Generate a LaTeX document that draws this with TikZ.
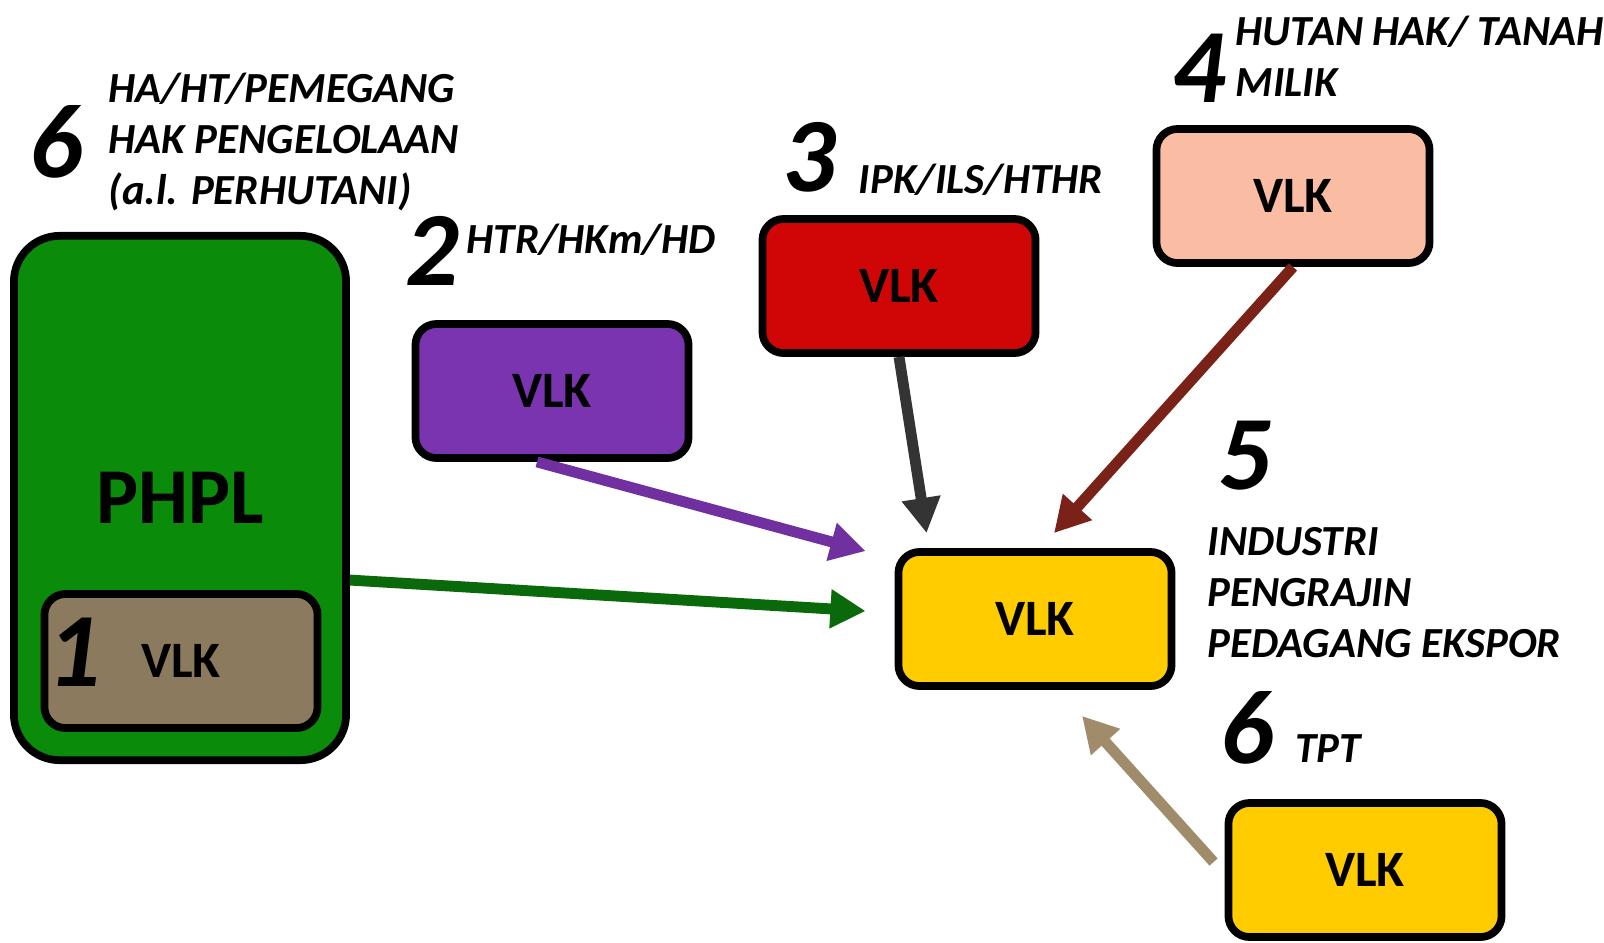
\documentclass[tikz,border=0pt]{standalone}
\usepackage{fontspec}
\setmainfont{Carlito}
\usetikzlibrary{arrows.meta, positioning}

\definecolor{phplgreen}{RGB}{10,140,10}
\definecolor{vlktan}{RGB}{140,122,94}
\definecolor{vlkpurple}{RGB}{122,52,176}
\definecolor{vlkred}{RGB}{208,6,6}
\definecolor{vlkpeach}{RGB}{250,188,162}
\definecolor{vlkyellow}{RGB}{255,204,0}
\definecolor{arrgreen}{RGB}{10,105,10}
\definecolor{arrpurple}{RGB}{112,48,160}
\definecolor{arrgray}{RGB}{52,52,52}
\definecolor{arrmaroon}{RGB}{122,34,24}
\definecolor{arrtan}{RGB}{160,140,106}

\tikzset{
  vlkbox/.style={draw=black, line width=2.2pt, rounded corners=6pt, minimum width=2.73cm, minimum height=1.34cm, font=\bfseries\fontsize{14.5}{16}\selectfont},
  bignum/.style={font=\bfseries\itshape\fontsize{30}{30}\selectfont, inner sep=0pt},
  lbl/.style={anchor=west, align=left, font=\bfseries\itshape\fontsize{12.2}{14.5}\selectfont, inner sep=0pt},
  arr/.style={line width=3.1pt, -{Triangle[length=10pt, width=10.5pt]}},
}

\begin{document}
\begin{tikzpicture}[x=0.01cm, y=-0.01cm]
    \useasboundingbox (0,0) rectangle (1604,942);
    % PHPL block
    \node[vlkbox, fill=phplgreen, rounded corners=13pt, minimum width=3.32cm, minimum height=5.24cm, font=\bfseries\fontsize{22.5}{24}\selectfont] (phpl) at (180,498) {PHPL};
    \node[vlkbox, fill=vlktan] (vlk1) at (181,661) {VLK};
    \node[bignum] (num1) at (74,652) {1};
    % 6 HA/HT
    \node[bignum] (num6a) at (56,142) {6};
    \node[lbl] (lab6a) at (108,142) {HA/HT/PEMEGANG\\HAK PENGELOLAAN\\(a.l. PERHUTANI)};
    % 2 HTR
    \node[bignum] (num2) at (432,251) {2};
    \node[lbl] (lab2) at (466,240) {HTR/HKm/HD};
    \node[vlkbox, fill=vlkpurple] (vlk2) at (552,391) {VLK};
    % 3 IPK
    \node[bignum] (num3) at (809,157) {3};
    \node[lbl] (lab3) at (858,180) {IPK/ILS/HTHR};
    \node[vlkbox, fill=vlkred] (vlk3) at (899,286) {VLK};
    % 4 hutan hak
    \node[bignum] (num4) at (1199,68) {4};
    \node[lbl] (lab4) at (1235,56) {HUTAN HAK/ TANAH\\MILIK};
    \node[vlkbox, fill=vlkpeach] (vlk4) at (1293,196) {VLK};
    % 5 industri
    \node[bignum] (num5) at (1245,456) {5};
    \node[lbl] (lab5) at (1207,593) {INDUSTRI\\PENGRAJIN\\PEDAGANG EKSPOR};
    \node[vlkbox, fill=vlkyellow] (vlk5) at (1035,619) {VLK};
    % 6 TPT
    \node[bignum] (num6b) at (1247,728) {6};
    \node[lbl] (lab6b) at (1295,749) {TPT};
    \node[vlkbox, fill=vlkyellow] (vlk6) at (1365,870) {VLK};
    % panah ke industri
    \draw[arr, arrgreen] ([yshift=-0.82cm]phpl.east) -- ([xshift=-0.29cm, yshift=0.08cm]vlk5.west);
    \draw[arr, arrpurple] ([xshift=-0.15cm]vlk2.south) -- ([xshift=-0.29cm, yshift=-0.03cm]vlk5.north west);
    \draw[arr, arrgray] (vlk3.south) -- ([xshift=0.32cm, yshift=0.15cm]vlk5.north west);
    \draw[arr, arrmaroon] (vlk4.south) -- ([xshift=0.19cm, yshift=0.15cm]vlk5.north);
    \draw[arr, arrtan] ([xshift=-0.11cm, yshift=0.08cm]vlk6.west) -- ([xshift=0.47cm, yshift=-0.26cm]vlk5.south);
\end{tikzpicture}
\end{document}
